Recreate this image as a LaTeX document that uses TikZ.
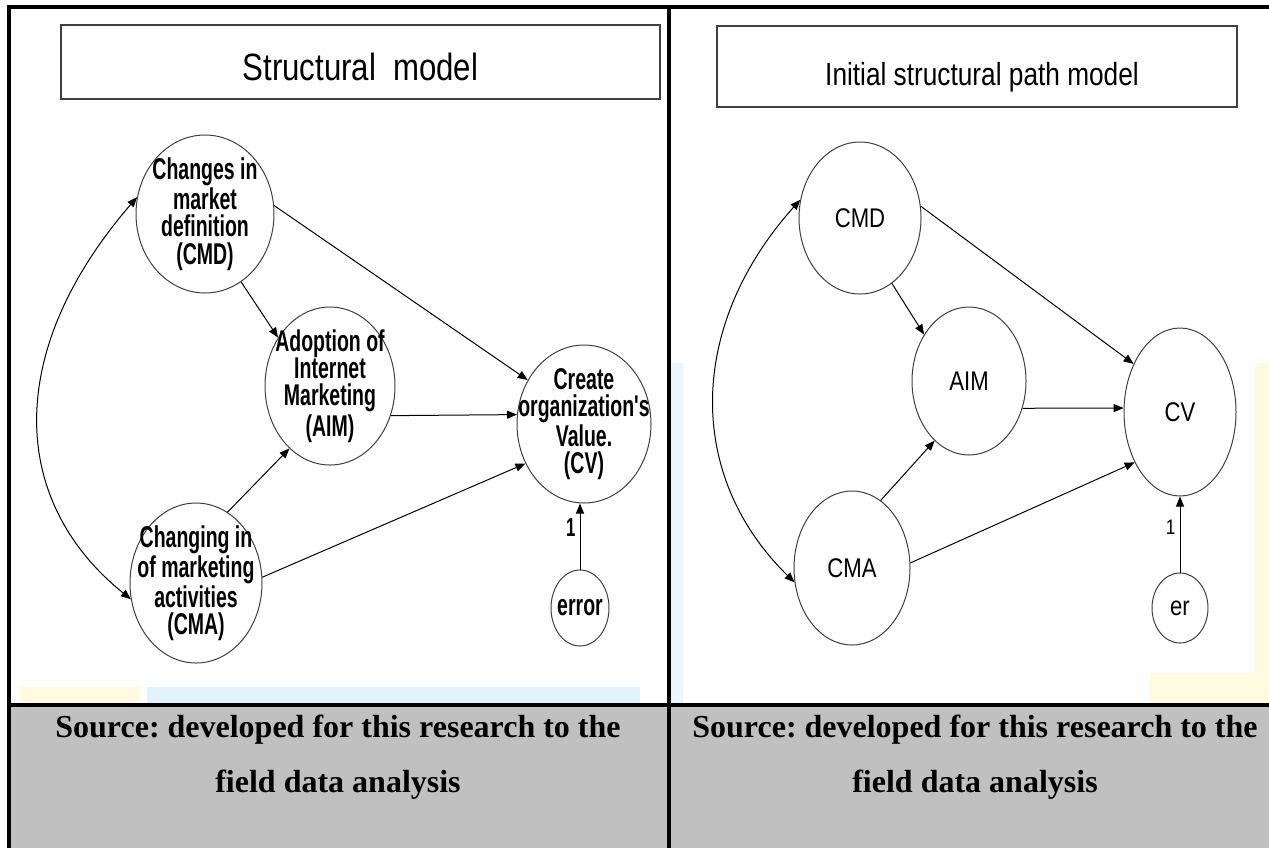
\documentclass[tikz,border=0pt]{standalone}
\usepackage{fontspec}
\usetikzlibrary{shapes.geometric,arrows.meta}
\newfontfamily\nodefont[FakeStretch=0.65]{Liberation Sans}
\newfontfamily\titlefont[FakeStretch=0.82]{Liberation Sans}
\newfontfamily\srcfont{Liberation Serif}
\definecolor{panelgray}{HTML}{C0C0C0}
\definecolor{boxline}{HTML}{404040}
\definecolor{paleyellow}{HTML}{FFFAE0}
\definecolor{palecyan}{HTML}{E0F3FB}
\frenchspacing
\begin{document}
\begin{tikzpicture}[x=0.5pt,y=-0.5pt,
  latent/.style 2 args={ellipse,draw=black!75,line width=0.5pt,inner sep=0pt,minimum width=#1pt,minimum height=#2pt},
  boldtxt/.style={font=\nodefont\bfseries\fontsize{15}{13.6}\selectfont,align=center,inner sep=0pt},
  plaintxt/.style={font=\titlefont\fontsize{13.5}{15}\selectfont,inner sep=0pt},
  onebold/.style={font=\nodefont\bfseries\fontsize{13}{14}\selectfont,inner sep=1pt},
  onereg/.style={font=\titlefont\fontsize{10.5}{12}\selectfont,inner sep=1pt},
  arr/.style={-{Triangle[length=5pt,width=4pt]},line width=0.5pt},
  dblarr/.style={{Triangle[length=5pt,width=4pt]}-{Triangle[length=5pt,width=4pt]},line width=0.5pt},
  titlebox/.style={draw=boxline,line width=1pt,inner sep=0pt},
  srctxt/.style={font=\srcfont\bfseries\fontsize{16}{18}\selectfont,inner sep=0pt}]
  \useasboundingbox (0,0) rectangle (1269,848);
  \fill[white] (0,0) rectangle (1269,848);
  \fill[paleyellow] (20,687) rectangle (140,704);
  \fill[palecyan] (147,687) rectangle (640,704);
  \fill[palecyan!70] (670,363) rectangle (683,703);
  \fill[paleyellow] (1255,363) rectangle (1269,673);
  \fill[paleyellow] (1150,673) rectangle (1269,703);
  \fill[panelgray] (9,705) rectangle (1269,848);
  \draw[line width=2pt] (1269,6.5) -- (9,6.5) -- (9,848);
  \draw[line width=2pt] (668.5,6.5) -- (668.5,848);
  \draw[line width=2pt] (9,705) -- (1269,705);

  \draw (360.5,62) node[titlebox,minimum width=299.5pt,minimum height=37pt] (ttlboxL) {};
  \draw (360.5,80) node[anchor=base,inner sep=0pt,font=\titlefont\fontsize{19}{22}\selectfont] (ttlL) {Structural\ \ model};
  \draw (977,66.5) node[titlebox,minimum width=260pt,minimum height=40.5pt] (ttlboxR) {};
  \draw (982,85) node[anchor=base,inner sep=0pt,font=\titlefont\fontsize{16}{19}\selectfont] (ttlR) {Initial structural path model};

  \draw (205,214) node[latent={69}{79},label={[boldtxt]center:Changes in\\market\\definition\\(CMD)}] (cmdL) {};
  \draw (330,386) node[latent={65}{79},label={[boldtxt]center:Adoption of\\Internet\\Marketing\\(AIM)}] (aimL) {};
  \draw (584,424) node[latent={67}{79},label={[boldtxt]center:Create\\organization's\\Value.\\(CV)}] (cvL) {};
  \draw (196,583) node[latent={66}{80},label={[boldtxt]center:Changing in\\of marketing\\activities\\(CMA)}] (cmaL) {};
  \draw (580,608) node[latent={29}{38},label={[boldtxt]center:error}] (errL) {};
  \draw[arr] (cmdL.7) -- (cvL.142);
  \draw[arr] (cmdL.-62) -- (aimL.137);
  \draw[arr] (aimL.-26) -- (cvL.172);
  \draw[arr] (cmaL.66) -- (aimL.-123);
  \draw[arr] (cmaL.5) -- (cvL.-146);
  \draw[arr] (errL.north) -- node[onebold,left=1pt,pos=0.64] {1} (errL.north |- cvL.south);
  \draw[dblarr] (cmdL.166) .. controls (5,350) and (8,500) .. (cmaL.-166);

  \draw (860,218) node[latent={61}{76},label={[plaintxt]center:CMD}] (cmdR) {};
  \draw (969,381) node[latent={57}{74},label={[plaintxt]center:AIM}] (aimR) {};
  \draw (1180,412) node[latent={56}{84},label={[plaintxt]center:CV}] (cvR) {};
  \draw (852,568) node[latent={58}{77},label={[plaintxt]center:CMA}] (cmaR) {};
  \draw (1180,608) node[latent={28}{35},label={[plaintxt]center:er}] (erR) {};
  \draw[arr] (cmdR.11) -- (cvR.134);
  \draw[arr] (cmdR.-64) -- (aimR.134);
  \draw[arr] (aimR.-27) -- (cvR.176);
  \draw[arr] (cmaR.67) -- (aimR.-120);
  \draw[arr] (cmaR.5) -- (cvR.-132);
  \draw[arr] (erR.north) -- node[onereg,left=1pt,pos=0.6] {1} (cvR.south);
  \draw[dblarr] (cmdR.163) .. controls (688,325) and (685,475) .. (cmaR.-166);

  \draw (338,737) node[srctxt,anchor=base] (srcL1) {Source: developed for this research to the};
  \draw (338,792) node[srctxt,anchor=base] (srcL2) {field data analysis};
  \draw (975,737) node[srctxt,anchor=base] (srcR1) {Source: developed for this research to the};
  \draw (975,792) node[srctxt,anchor=base] (srcR2) {field data analysis};
\end{tikzpicture}
\end{document}
